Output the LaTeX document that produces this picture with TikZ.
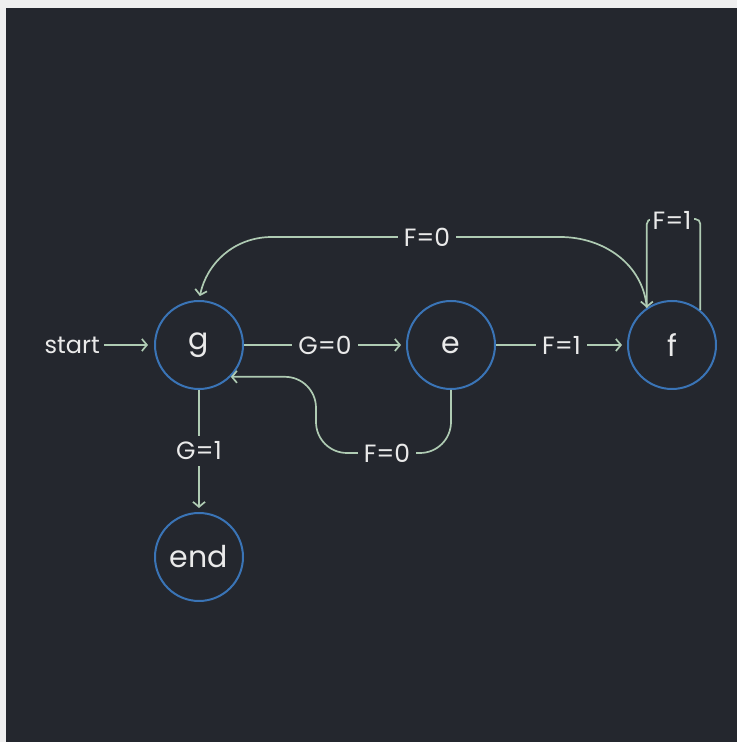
\documentclass[tikz,border=0pt]{standalone}
\usepackage{fontspec}
\setmainfont{Poppins}
\usetikzlibrary{arrows.meta}
\definecolor{bgdark}{HTML}{24272E}
\definecolor{frame}{HTML}{EFEFEF}
\definecolor{wire}{HTML}{AFCBB3}
\definecolor{ring}{HTML}{3A74B6}
\definecolor{ink}{HTML}{EAEAEA}
\begin{document}
\begin{tikzpicture}[x=1pt,y=1pt,
  state/.style={circle, draw=ring, line width=2pt, minimum size=88pt,
    inner sep=0pt, text=ink, font=\fontsize{30}{34}\selectfont},
  edge/.style={draw=wire, line width=1.7pt,
    -{Straight Barb[length=5pt,width=12pt]}},
  lbl/.style={fill=bgdark, text=ink, inner sep=6pt,
    font=\fontsize{25}{28}\selectfont},
  plain/.style={text=ink, inner sep=4pt, font=\fontsize{24}{28}\selectfont}]
% page and dark panel
\fill[frame] (0,0) rectangle (737,742);
\fill[bgdark] (6,0) rectangle (737,734);
\useasboundingbox (0,0) rectangle (737,742);

% states
\node[state] (g) at (199,397) {g};
\node[state] (e) at (451,397) {e};
\node[state] (f) at (672,397) {f};
\node[state] (end) at (199,185) {end};
\node[plain, anchor=east] (start) at (104,397) {start};

% straight transitions
\draw[edge, shorten >=6pt] (start) -- (g);
\draw[edge, shorten >=5pt] (g) -- node[lbl] {G=0} (e);
\draw[edge, shorten >=5pt] (e) -- node[lbl] {F=1} (f);
\draw[edge, shorten >=4pt] (g) -- node[lbl] {G=1} (end);

% e back to g underneath
\draw[edge, rounded corners=31pt] (e.south) |- (316,289) |- (g.-45);
\node[lbl] (fzb) at (387,289) {F=0};

% f back to g over the top
\coordinate (tr) at (560,505);
\coordinate (tl) at (272,505);
\draw[edge, shorten >=4pt] (f.124) to[out=95,in=0] (tr) -- (tl)
  to[out=180,in=78] (g.north);
\node[lbl] (fzt) at (427,505) {F=0};

% self loop on f
\draw[edge, rounded corners=5pt] (f.51) -- ++(0,91) -| (f.124);
\node[lbl, inner sep=3pt] (fone) at (672,522) {F=1};
\end{tikzpicture}
\end{document}
